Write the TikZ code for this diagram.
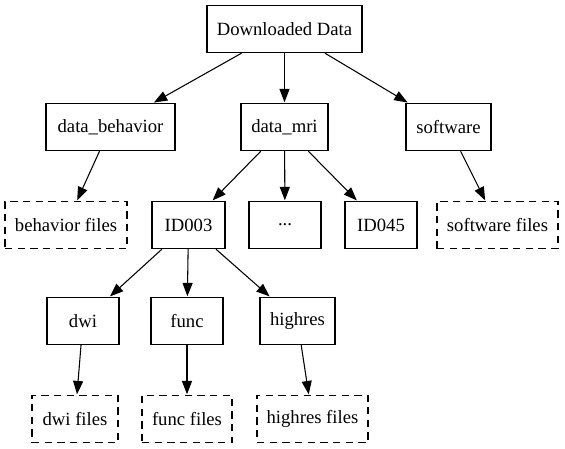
\documentclass[tikz,border=0pt]{standalone}
\usepackage{fontspec}
\setmainfont{Liberation Serif}
\usetikzlibrary{arrows.meta}
\tikzset{
  box/.style={draw, line width=0.8pt, minimum width=#1*0.75pt, minimum height=35.5pt,
    inner sep=0pt, font=\fontsize{14}{16}\selectfont},
  filebox/.style={box=#1, dash pattern=on 5.5pt off 4pt},
  edge/.style={line width=0.8pt, -{Triangle[length=10pt,width=7.5pt]}, shorten >=0.4pt}
}
\begin{document}
\begin{tikzpicture}[x=0.75pt,y=-0.75pt]
\useasboundingbox (0,0) rectangle (565,449);
\node[box=155] (top) at (284.5,29) {Downloaded Data};
\node[box=129] (db) at (110.5,127) {data\_behavior};
\node[box=87] (mri) at (284.5,127) {data\_mri};
\node[box=85] (sw) at (448.5,127) {software};
\node[filebox=122] (bf) at (66,225) {behavior files};
\node[box=73] (id3) at (188.5,225) {ID003};
\node[box=72] (dots) at (285,225) {...};
\node[box=72] (id45) at (381,225) {ID045};
\node[filebox=121] (sf) at (497.5,225) {software files};
\node[box=72] (dwi) at (83,321) {dwi};
\node[box=72] (func) at (187,321) {func};
\node[box=75] (hr) at (297.5,321) {highres};
\node[filebox=86] (dwif) at (75,419) {dwi files};
\node[filebox=90] (funcf) at (187,419) {func files};
\node[filebox=111] (hrf) at (312.5,419) {highres files};
\draw[edge] (top) -- (db);
\draw[edge] (top) -- (mri);
\draw[edge] (top) -- (sw);
\draw[edge] (db) -- (bf);
\draw[edge] (mri) -- (id3);
\draw[edge] (mri) -- (dots);
\draw[edge] (mri) -- (id45);
\draw[edge] (sw) -- (sf);
\draw[edge] (id3) -- (dwi);
\draw[edge] (id3) -- (func);
\draw[edge] (id3) -- (hr);
\draw[edge] (dwi) -- (dwif);
\draw[edge] (func) -- (funcf);
\draw[edge] (hr) -- (hrf);
\end{tikzpicture}
\end{document}
